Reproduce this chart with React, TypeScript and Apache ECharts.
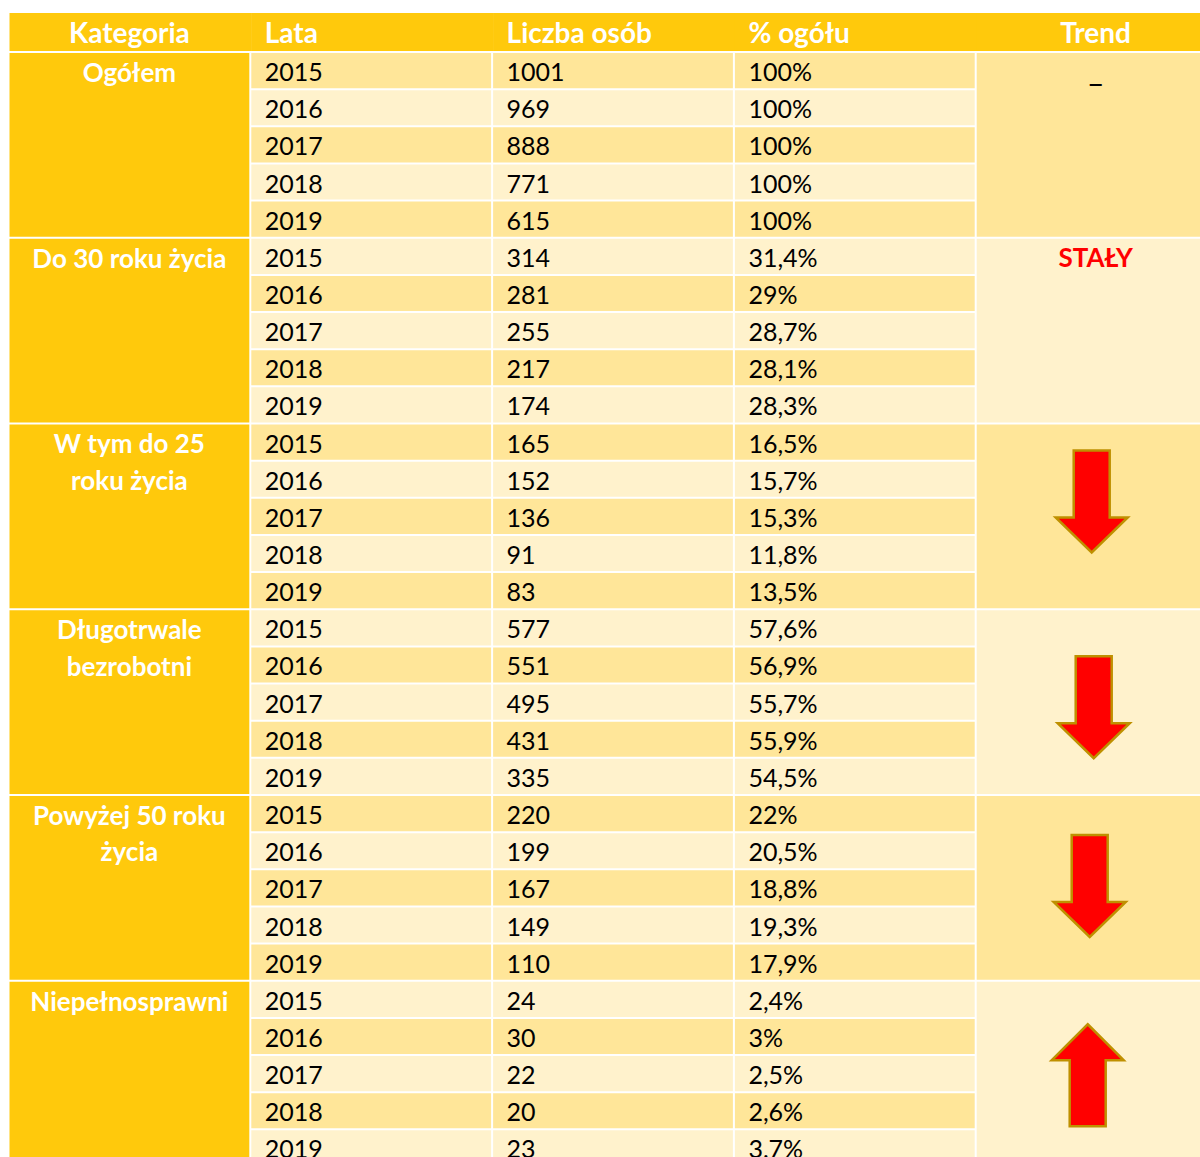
import React, { useEffect, useRef } from 'react';
import * as echarts from 'echarts';

const headers = ['Kategoria', 'Lata', 'Liczba osób', '% ogółu', 'Trend'];
const categories = [
  'Ogółem',
  'Do 30 roku życia',
  'W tym do 25\nroku życia',
  'Długotrwale\nbezrobotni',
  'Powyżej 50 roku\nżycia',
  'Niepełnosprawni',
];
const years = ['2015', '2016', '2017', '2018', '2019'];
const counts = [
  [1001, 969, 888, 771, 615],
  [314, 281, 255, 217, 174],
  [165, 152, 136, 91, 83],
  [577, 551, 495, 431, 335],
  [220, 199, 167, 149, 110],
  [24, 30, 22, 20, 23],
];
const shares = [
  ['100%', '100%', '100%', '100%', '100%'],
  ['31,4%', '29%', '28,7%', '28,1%', '28,3%'],
  ['16,5%', '15,7%', '15,3%', '11,8%', '13,5%'],
  ['57,6%', '56,9%', '55,7%', '55,9%', '54,5%'],
  ['22%', '20,5%', '18,8%', '19,3%', '17,9%'],
  ['2,4%', '3%', '2,5%', '2,6%', '3,7%'],
];
const trends = ['–', 'STAŁY', 'down', 'down', 'down', 'up'];

// layout (not data)
const W = 1200;
const H = 1157;
const ROW_PX = 37.15;
const HEADER_MIN = -1.08;
const HEADER_END = -0.054;
const COL_PX = 241.8;
const LEFT = 9.5;
const FIRST_ROW_TOP = 53;
const GAP = 2;
const arrowLayout = [
  null,
  null,
  { dx: 115, dy: 26 },
  { dx: 117, dy: 46 },
  { dx: 113, dy: 39 },
  { dx: 111, dy: 42.5 },
];

const GOLD = '#FFC90C';
const DARK = '#FFE699';
const LIGHT = '#FFF2CC';
const FONT = 'Lato, "Open Sans", sans-serif';

export default function App() {
  const ref = useRef<HTMLDivElement>(null);

  useEffect(() => {
    document.body.style.margin = '0';
    if (!ref.current) return;
    const chart = echarts.init(ref.current, undefined, { renderer: 'svg' });

    const headerData = headers.map((_, i) => [i, HEADER_MIN, i]);
    const catData = categories.map((_, g) => [0, g * 5, g]);
    const cellData: number[][] = [];
    counts.forEach((grp, g) => {
      grp.forEach((_, k) => {
        const r = g * 5 + k;
        for (let c = 1; c <= 3; c++) cellData.push([c, r, g, k]);
      });
    });
    const trendData = trends.map((_, g) => [4, g * 5, g]);

    const xMax = (W - LEFT) / COL_PX;
    const gridTop = FIRST_ROW_TOP + HEADER_MIN * ROW_PX;
    const yMax = (H - FIRST_ROW_TOP) / ROW_PX;

    const option: any = {
      animation: false,
      grid: {
        left: LEFT,
        right: 0,
        top: gridTop,
        bottom: 0,
        outerBoundsMode: 'none',
        containLabel: false,
      },
      xAxis: { type: 'value', min: 0, max: xMax, show: false },
      yAxis: { type: 'value', min: HEADER_MIN, max: yMax, inverse: true, show: false },
      series: [
        {
          type: 'custom',
          coordinateSystem: 'cartesian2d',
          clip: false,
          data: headerData,
          renderItem: (params: any, api: any) => {
            const i = api.value(2);
            const p0 = api.coord([i, HEADER_MIN]);
            const p1 = api.coord([i + 1, HEADER_END]);
            const w = p1[0] - p0[0];
            const h = p1[1] - p0[1];
            const centered = i === 0 || i === 4;
            return {
              type: 'group',
              children: [
                { type: 'rect', shape: { x: p0[0], y: p0[1], width: w + 0.5, height: h }, style: { fill: GOLD } },
                {
                  type: 'text',
                  style: {
                    text: headers[i],
                    x: centered ? p0[0] + (i === 4 ? 119 : w / 2 - 1) : p0[0] + 13.5,
                    y: p0[1] + h / 2 + 0.5,
                    align: centered ? 'center' : 'left',
                    verticalAlign: 'middle',
                    fill: '#ffffff',
                    fontFamily: FONT,
                    fontWeight: 'bold',
                    fontSize: 28,
                  },
                },
              ],
            };
          },
        },
        {
          type: 'custom',
          coordinateSystem: 'cartesian2d',
          clip: false,
          data: catData,
          renderItem: (params: any, api: any) => {
            const g = api.value(2);
            const r = api.value(1);
            const p0 = api.coord([0, r]);
            const p1 = api.coord([1, r + 5]);
            const w = p1[0] - p0[0] - GAP;
            const h = p1[1] - p0[1] - GAP;
            return {
              type: 'group',
              children: [
                { type: 'rect', shape: { x: p0[0], y: p0[1], width: w, height: h }, style: { fill: GOLD } },
                {
                  type: 'text',
                  style: {
                    text: categories[g],
                    x: p0[0] + w / 2,
                    y: p0[1] + 0.5,
                    align: 'center',
                    verticalAlign: 'top',
                    lineHeight: 36.5,
                    fill: '#ffffff',
                    fontFamily: FONT,
                    fontWeight: 'bold',
                    fontSize: 26,
                  },
                },
              ],
            };
          },
        },
        {
          type: 'custom',
          coordinateSystem: 'cartesian2d',
          clip: false,
          data: cellData,
          renderItem: (params: any, api: any) => {
            const c = api.value(0);
            const r = api.value(1);
            const g = api.value(2);
            const k = api.value(3);
            const p0 = api.coord([c, r]);
            const p1 = api.coord([c + 1, r + 1]);
            const w = p1[0] - p0[0] - GAP;
            const h = p1[1] - p0[1] - GAP;
            const txt = c === 1 ? years[k] : c === 2 ? String(counts[g][k]) : shares[g][k];
            return {
              type: 'group',
              children: [
                { type: 'rect', shape: { x: p0[0], y: p0[1], width: w, height: h }, style: { fill: r % 2 === 0 ? DARK : LIGHT } },
                {
                  type: 'text',
                  style: {
                    text: txt,
                    x: p0[0] + 13.5,
                    y: p0[1] + h / 2 + 0.5,
                    align: 'left',
                    verticalAlign: 'middle',
                    fill: '#000000',
                    fontFamily: FONT,
                    fontSize: 25,
                  },
                },
              ],
            };
          },
        },
        {
          type: 'custom',
          coordinateSystem: 'cartesian2d',
          clip: false,
          data: trendData,
          renderItem: (params: any, api: any) => {
            const g = api.value(2);
            const r = api.value(1);
            const p0 = api.coord([4, r]);
            const p1 = api.coord([5, r + 5]);
            const w = p1[0] - p0[0] - GAP;
            const h = p1[1] - p0[1] - GAP;
            const children: any[] = [
              { type: 'rect', shape: { x: p0[0], y: p0[1], width: w, height: h }, style: { fill: g % 2 === 0 ? DARK : LIGHT } },
            ];
            const t = trends[g];
            if (t === 'down' || t === 'up') {
              const lay = arrowLayout[g]!;
              const cx = p0[0] + lay.dx;
              const top = p0[1] + lay.dy;
              const pts =
                t === 'down'
                  ? [
                      [cx - 18, top], [cx + 18, top], [cx + 18, top + 67], [cx + 36, top + 67],
                      [cx, top + 102], [cx - 36, top + 67], [cx - 18, top + 67],
                    ]
                  : [
                      [cx, top], [cx + 36, top + 36], [cx + 18, top + 36], [cx + 18, top + 102],
                      [cx - 18, top + 102], [cx - 18, top + 36], [cx - 36, top + 36],
                    ];
              children.push({
                type: 'polygon',
                shape: { points: pts },
                style: { fill: '#FF0000', stroke: '#BF9000', lineWidth: 2.5, lineJoin: 'miter' },
              });
            } else {
              const isWord = t !== '–';
              children.push({
                type: 'text',
                style: {
                  text: t,
                  x: p0[0] + 119,
                  y: isWord ? p0[1] + 18.5 : p0[1] + 29,
                  align: 'center',
                  verticalAlign: 'middle',
                  fill: isWord ? '#FF0000' : '#000000',
                  fontFamily: FONT,
                  fontWeight: isWord ? 'bold' : 'normal',
                  fontSize: isWord ? 26 : 30,
                },
              });
            }
            return { type: 'group', children };
          },
        },
      ],
    };

    chart.setOption(option);
    return () => chart.dispose();
  }, []);

  return <div ref={ref} style={{ width: W, height: H }} />;
}
